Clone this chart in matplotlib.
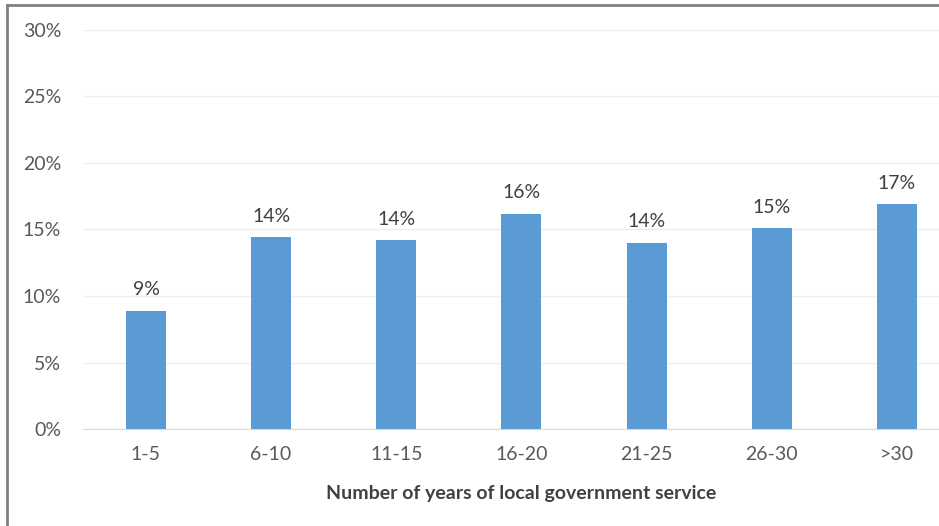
import matplotlib.pyplot as plt
from matplotlib.lines import Line2D

# Share of respondents by years of local government service
categories = ['1-5', '6-10', '11-15', '16-20', '21-25', '26-30', '>30']
shares = [8.9, 14.4, 14.2, 16.2, 14.0, 15.1, 16.9]
yticks = [0, 5, 10, 15, 20, 25, 30]

plt.rcParams['font.family'] = ['Lato', 'DejaVu Sans']

bar_color = '#5B9BD5'
text_color = '#595959'

fig = plt.figure(figsize=(9.39, 5.26), dpi=100)
ax = fig.add_axes([0.0888, 0.1844, 0.933, 0.7586])

x = range(len(categories))
bars = ax.bar(x, shares, width=0.32, color=bar_color, zorder=3)

for xi, v in zip(x, shares):
    ax.annotate(f'{v:.0f}%', (xi, v), xytext=(0, 9), textcoords='offset points',
                ha='center', va='bottom', fontsize=14, color='#404040')

ax.set_xlim(-0.5, len(categories) - 0.5)
ax.set_ylim(0, 30)
ax.set_yticks(yticks)
ax.set_yticklabels([f'{t}%' for t in yticks])
ax.set_xticks(list(x))
ax.set_xticklabels(categories)
ax.tick_params(axis='both', length=0, labelsize=14, colors=text_color)
ax.tick_params(axis='y', pad=16)
ax.tick_params(axis='x', pad=12)

ax.yaxis.grid(True, color='#EEEEEE', linewidth=1, zorder=0)
ax.set_axisbelow(True)
for side in ['top', 'right', 'left']:
    ax.spines[side].set_visible(False)
ax.spines['bottom'].set_color('#D9D9D9')

ax.set_xlabel('Number of years of local government service', fontsize=14,
              fontweight='bold', color='#404040', labelpad=16)

# Outer frame on the left and top edges
fig.add_artist(Line2D([0.0075, 0.0075], [0, 0.99], transform=fig.transFigure,
                      color='#808080', linewidth=2))
fig.add_artist(Line2D([0.0075, 1.0], [0.99, 0.99], transform=fig.transFigure,
                      color='#808080', linewidth=2))

fig.savefig('out.png', dpi=100, facecolor='white')
